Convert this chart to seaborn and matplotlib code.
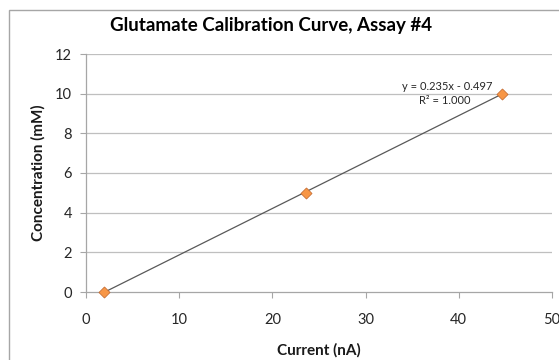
import numpy as np
import pandas as pd
import matplotlib
matplotlib.use("Agg")
import matplotlib.pyplot as plt
import seaborn as sns
from matplotlib.patches import Rectangle

current_nA = [1.9, 23.6, 44.6]
concentration_mM = [0.0, 5.0, 10.0]
title = "Glutamate Calibration Curve, Assay #4"
x_label = "Current (nA)"
y_label = "Concentration (mM)"
x_ticks = [0, 10, 20, 30, 40, 50]
y_ticks = [0, 2, 4, 6, 8, 10, 12]
equation = "y = 0.235x - 0.497"
r2_text = "R² = 1.000"

sns.set_style("white")
plt.rcParams['font.family'] = ['Lato', 'DejaVu Sans']

df = pd.DataFrame({"current": current_nA, "conc": concentration_mM})
slope, intercept = np.polyfit(df["current"], df["conc"], 1)
fit = pd.DataFrame({"current": [min(current_nA), max(current_nA)]})
fit["conc"] = slope * fit["current"] + intercept

fig = plt.figure(figsize=(5.59, 3.6), dpi=100)
ax = fig.add_axes([86/559, 1-292/360, (552-86)/559, (292-54)/360])

fig.patches.append(Rectangle((9/559, -0.1), 1.2, 1 - 10/360 + 0.1, transform=fig.transFigure,
                             fill=False, edgecolor="#a6a6a6", linewidth=1.0, zorder=0))

for yt in y_ticks[1:]:
    ax.axhline(yt, color="#bfbfbf", linewidth=0.9, zorder=0)

sns.lineplot(data=fit, x="current", y="conc", ax=ax, color="#595959", linewidth=0.9, zorder=2)
sns.scatterplot(data=df, x="current", y="conc", ax=ax, marker="D", s=32,
                color="#F79646", edgecolor="#c0652a", linewidth=0.5, zorder=3, clip_on=False)

ax.set_xlim(0, 50)
ax.set_ylim(0, 12)
ax.set_xticks(x_ticks)
ax.set_yticks(y_ticks)
ax.tick_params(axis="both", labelsize=10.5, colors="#262626", length=4, width=0.8,
               direction="out", color="#a6a6a6", pad=6)
ax.tick_params(axis="x", pad=11)
ax.xaxis.set_ticks_position("bottom")
ax.yaxis.set_ticks_position("left")
for side in ["top", "right"]:
    ax.spines[side].set_visible(False)
for side in ["left", "bottom"]:
    ax.spines[side].set_color("#a6a6a6")
    ax.spines[side].set_linewidth(0.9)

ax.set_xlabel(x_label, fontsize=11, fontweight="bold", color="#1a1a1a", labelpad=12)
ax.set_ylabel(y_label, fontsize=11, fontweight="bold", color="#1a1a1a", labelpad=7)

fig.text(271/559, 1-26/360, title, ha="center", va="center", fontsize=13.5,
         fontweight="bold", color="#000000")
ax.text(447/559, 1-86/360, equation, transform=fig.transFigure, ha="center", va="center",
        fontsize=8, color="#262626")
ax.text(445/559, 1-101/360, r2_text, transform=fig.transFigure, ha="center", va="center",
        fontsize=8, color="#262626")

fig.savefig("out.png", dpi=100, facecolor="white")
